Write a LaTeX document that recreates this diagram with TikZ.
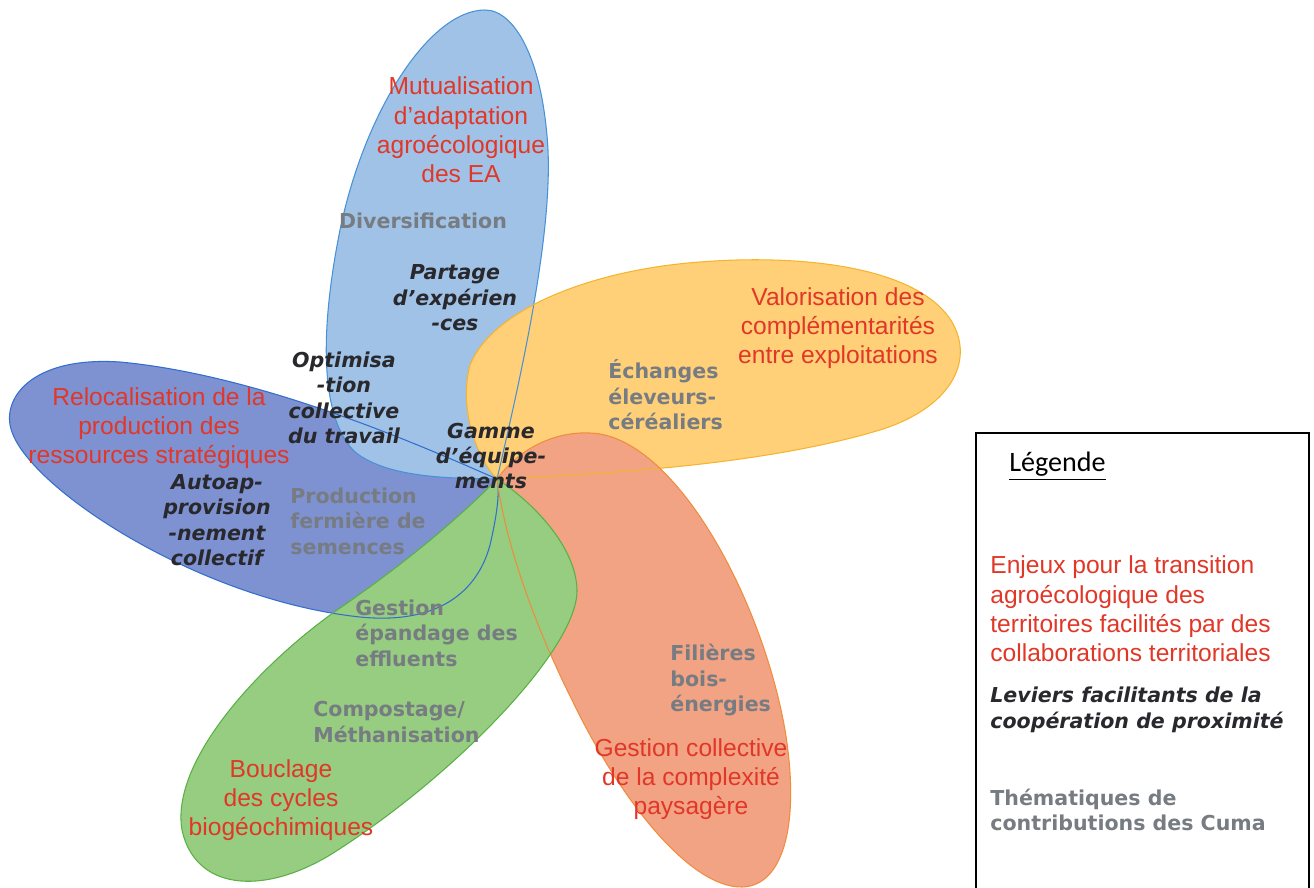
\documentclass[tikz,border=0pt]{standalone}
\usepackage{fontspec}
\setmainfont{Liberation Sans}
\newfontfamily\verdana{DejaVu Sans}
\newfontfamily\calibri{Carlito}

\definecolor{petaltop}{RGB}{160,194,230}
\definecolor{petalleft}{RGB}{126,146,210}
\definecolor{petalright}{RGB}{255,208,120}
\definecolor{petallow}{RGB}{242,163,132}
\definecolor{petalgreen}{RGB}{150,205,128}
\definecolor{linetop}{RGB}{70,145,215}
\definecolor{lineleft}{RGB}{50,110,205}
\definecolor{lineright}{RGB}{245,180,45}
\definecolor{linelow}{RGB}{240,140,60}
\definecolor{linegreen}{RGB}{90,175,70}
\definecolor{enjeured}{RGB}{225,55,40}
\definecolor{levierdark}{RGB}{40,40,45}
\definecolor{themegray}{RGB}{118,124,130}

% petal outlines, in pixel units
\newcommand\leaftop{(c) .. controls (520,380) and (552,240) .. (548,150)
  .. controls (543,60) and (515,10) .. (485,10)
  .. controls (430,10) and (365,110) .. (340,230)
  .. controls (318,340) and (322,420) .. (355,452)
  .. controls (390,480) and (460,478) .. (c) -- cycle}
\newcommand\leafleft{(c) .. controls (420,445) and (260,375) .. (120,362)
  .. controls (30,356) and (0,400) .. (12,432)
  .. controls (32,490) and (200,600) .. (360,617)
  .. controls (440,625) and (478,590) .. (490,545)
  .. controls (497,515) and (500,492) .. (c) -- cycle}
\newcommand\leafright{(c) .. controls (600,474) and (760,466) .. (880,430)
  .. controls (950,408) and (975,362) .. (952,322)
  .. controls (918,266) and (800,254) .. (700,262)
  .. controls (590,270) and (492,310) .. (470,365)
  .. controls (458,410) and (478,460) .. (c) -- cycle}
\newcommand\leaflow{(c) .. controls (520,447) and (560,428) .. (600,434)
  .. controls (680,448) and (762,600) .. (785,730)
  .. controls (800,820) and (785,886) .. (742,887)
  .. controls (690,888) and (620,800) .. (572,700)
  .. controls (532,620) and (505,540) .. (c) -- cycle}
\newcommand\leafgreen{(c) .. controls (530,500) and (576,545) .. (577,590)
  .. controls (578,650) and (450,780) .. (330,855)
  .. controls (262,896) and (195,890) .. (182,830)
  .. controls (170,760) and (262,662) .. (340,608)
  .. controls (420,553) and (472,505) .. (c) -- cycle}

\begin{document}
\begin{tikzpicture}[x=0.02cm,y=-0.02cm,
  enjeu/.style={font=\fontsize{14}{16.7}\selectfont,text=enjeured,
    align=center,inner sep=0pt},
  levier/.style={font=\verdana\bfseries\itshape\fontsize{11.7}{14.5}\selectfont,
    text=levierdark,align=center,inner sep=0pt},
  theme/.style={font=\verdana\bfseries\fontsize{11.7}{14.5}\selectfont,
    text=themegray,align=left,inner sep=0pt,anchor=west},
  petal/.style={line width=0.6pt}]
  \useasboundingbox (0,0) rectangle (1314,888);
  \coordinate (c) at (497,479);

  \fill[petalleft] \leafleft;
  \fill[petaltop] \leaftop;
  \fill[petalright] \leafright;
  \fill[petallow] \leaflow;
  \fill[petalgreen] \leafgreen;
  \draw[petal,lineleft] \leafleft;
  \draw[petal,linetop] \leaftop;
  \draw[petal,lineright] \leafright;
  \draw[petal,linelow] \leaflow;
  \draw[petal,linegreen] \leafgreen;

  \node[enjeu] (mutualisation) at (461,130)
    {Mutualisation\\d’adaptation\\agroécologique\\des EA};
  \node[theme,anchor=center] (diversification) at (423,221) {Diversification};
  \node[levier] (partage) at (455,298) {Partage\\d’expérien\\-ces};
  \node[levier] (optimisation) at (344,398)
    {Optimisa\\-tion\\collective\\du travail};
  \node[levier] (gamme) at (491,456) {Gamme\\d’équipe-\\ments};

  \node[enjeu] (relocalisation) at (159,428)
    {Relocalisation de la\\production des\\ressources stratégiques};
  \node[levier] (autoappro) at (217,520)
    {Autoap-\\provision\\-nement\\collectif};
  \node[theme] (semences) at (290,521)
    {Production\\fermière de\\semences};

  \node[enjeu] (valorisation) at (838,328)
    {Valorisation des\\complémentarités\\entre exploitations};
  \node[theme] (echanges) at (608,395) {Échanges\\éleveurs-\\céréaliers};

  \node[theme] (filieres) at (670,680) {Filières\\bois-\\énergies};
  \node[enjeu] (paysage) at (691,779)
    {Gestion collective\\de la complexité\\paysagère};

  \node[theme] (effluents) at (355,633)
    {Gestion\\épandage des\\effluents};
  \node[theme] (compostage) at (313,722) {Compostage/\\Méthanisation};
  \node[enjeu] (bouclage) at (281,800)
    {Bouclage\\des cycles\\biogéochimiques};

  % legend
  \draw[line width=1.1pt] (976,892) |- (1309,433) -- (1309,892);
  \node[font=\calibri\fontsize{16}{19}\selectfont,anchor=west,inner sep=0pt]
    (legende) at (1009,466) {\underline{Légende}};
  \node[enjeu,align=left,anchor=west] (legendeenjeu) at (990,609)
    {Enjeux pour la transition\\agroécologique des\\territoires facilités par des\\collaborations territoriales};
  \node[levier,align=left,anchor=west] (legendelevier) at (990,710)
    {Leviers facilitants de la\\coopération de proximité};
  \node[theme] (legendetheme) at (990,810)
    {Thématiques de\\contributions des Cuma};
\end{tikzpicture}
\end{document}
